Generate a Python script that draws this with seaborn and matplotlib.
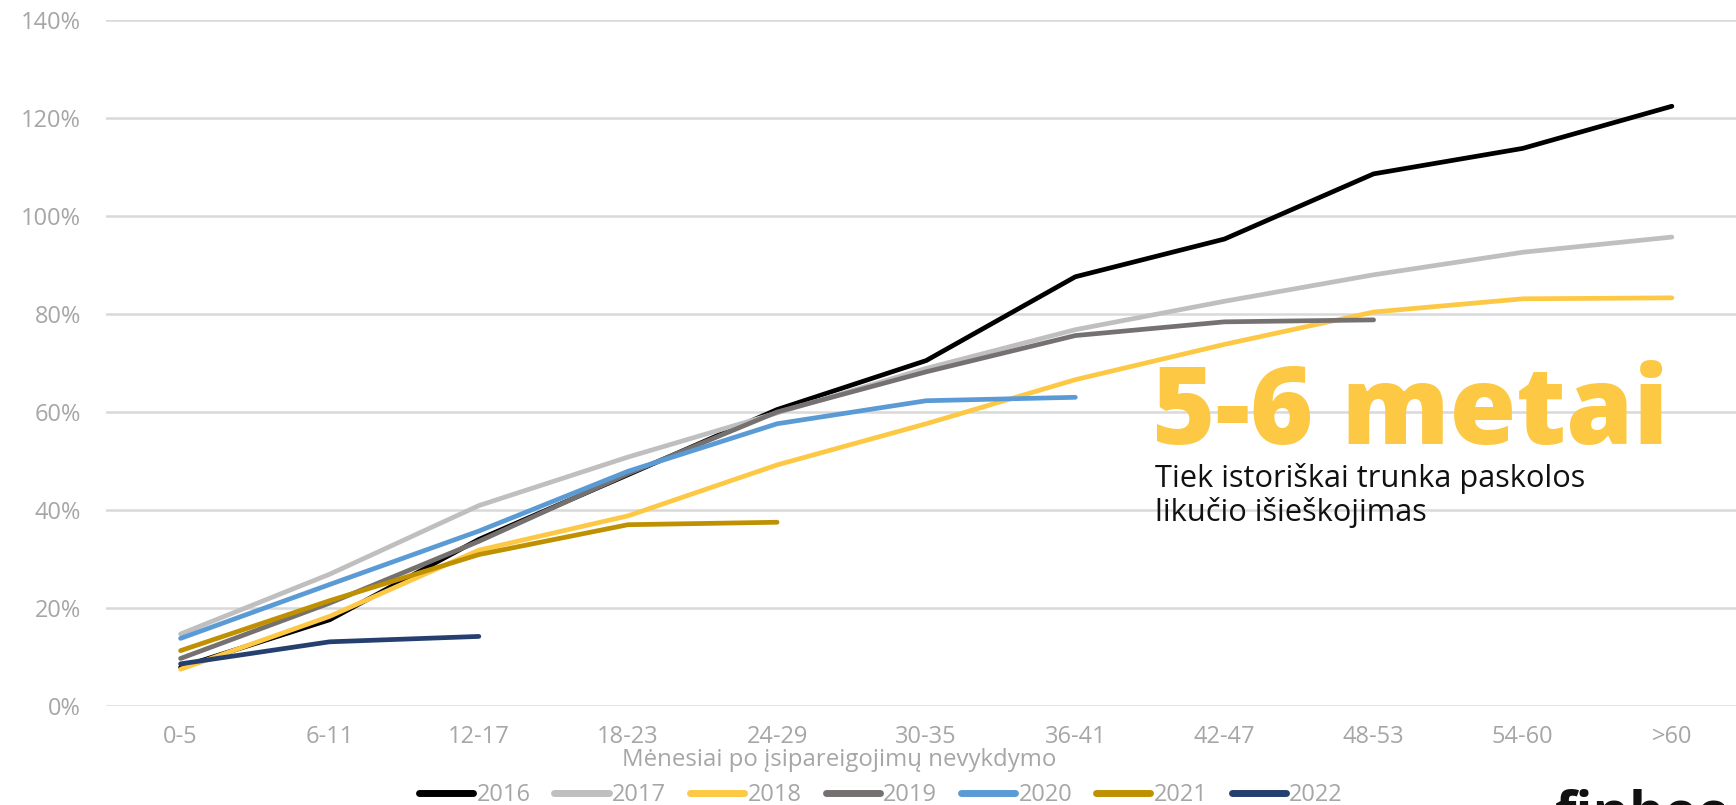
import numpy as np
import pandas as pd
import seaborn as sns
import matplotlib.pyplot as plt
from matplotlib.lines import Line2D

categories = ["0-5", "6-11", "12-17", "18-23", "24-29", "30-35", "36-41",
              "42-47", "48-53", "54-60", ">60"]
years = ["2016", "2017", "2018", "2019", "2020", "2021", "2022"]

v2016 = [7.9, 17.6, 34.0, 47.2, 60.5, 70.5, 87.6, 95.3, 108.6, 113.8, 122.4]
v2017 = [14.7, 26.9, 40.9, 50.8, 59.8, 68.9, 76.8, 82.6, 88.0, 92.6, 95.7]
v2018 = [7.5, 18.3, 31.8, 38.8, 49.2, 57.6, 66.6, 73.8, 80.4, 83.1, 83.3]
v2019 = [9.7, 21.0, 33.6, 47.4, 60.0, 68.2, 75.6, 78.4, 78.8]
v2020 = [13.8, 24.8, 35.7, 47.9, 57.6, 62.3, 63.0]
v2021 = [11.3, 21.5, 30.9, 37.0, 37.5]
v2022 = [8.6, 13.1, 14.2]

colors = ["#000000", "#BFBFBF", "#FDC844", "#757171", "#5B9BD5", "#BF9000", "#253F6E"]

series = [v2016, v2017, v2018, v2019, v2020, v2021, v2022]
rows = []
for y, vals in zip(years, series):
    for i, v in enumerate(vals):
        rows.append({"year": y, "pos": i, "value": v})
df = pd.DataFrame(rows)

sns.set_theme(style="white")
plt.rcParams['font.family'] = ['Open Sans', 'DejaVu Sans']

W, H = 1736, 805
fig = plt.figure(figsize=(W / 100, H / 100), dpi=100)
ax = fig.add_axes([106 / W, 99 / H, 1 - 106 / W, 686 / H])

sns.lineplot(data=df, x="pos", y="value", hue="year", palette=colors,
             linewidth=3.4, ax=ax, legend=False, sort=False)
for l in ax.lines:
    l.set_solid_capstyle("round")
    l.set_solid_joinstyle("round")

ax.set_xlim(-0.5, 10.43)
ax.set_ylim(0, 140)
ax.set_yticks(np.arange(0, 141, 20))
ax.set_yticklabels([f"{int(t)}%" for t in np.arange(0, 141, 20)])
ax.set_xticks(range(len(categories)))
ax.set_xticklabels(categories)
ax.tick_params(axis="y", length=0, pad=18, labelsize=17, labelcolor="#A6A6A6")
ax.tick_params(axis="x", length=0, pad=14, labelsize=17, labelcolor="#A6A6A6")
ax.grid(axis="y", color="#D9D9D9", linewidth=1.8)
ax.grid(axis="x", visible=False)
for s in ax.spines.values():
    s.set_visible(False)
ax.set_xlabel("")
ax.set_ylabel("")
ax.set_axisbelow(True)

renderer = fig.canvas.get_renderer()


def fit_width(txt, target_px):
    ext = txt.get_window_extent(renderer=renderer)
    txt.set_fontsize(txt.get_fontsize() * target_px / ext.width)


xl = fig.text(839 / W, 1 - 760 / H, "Mėnesiai po įsipareigojimų nevykdymo",
              ha="center", va="center", fontsize=15, color="#A6A6A6")
fit_width(xl, 432)

handles = [Line2D([0], [0], color=c, linewidth=5, solid_capstyle="round") for c in colors]
fig.legend(handles, years, loc="center", bbox_to_anchor=(881 / W, 1 - 795 / H),
           ncol=7, frameon=False, fontsize=17, labelcolor="#A6A6A6",
           handlelength=2.3, handletextpad=0.15, columnspacing=1.0)

head = fig.text(1152 / W, 1 - 444 / H, "5-6 metai", ha="left", va="baseline",
                fontsize=75, fontweight="heavy", color="#FDC844")
fit_width(head, 516)

sub1 = fig.text(1155 / W, 1 - 487 / H, "Tiek istoriškai trunka paskolos",
                ha="left", va="baseline", fontsize=20, color="#111111")
fit_width(sub1, 430)
sub2 = fig.text(1155 / W, 1 - 521 / H, "likučio išieškojimas",
                ha="left", va="baseline", fontsize=sub1.get_fontsize(), color="#111111")

fig.text(1555 / W, 1 - 830 / H, "finbee", ha="left", va="baseline",
         fontsize=40, fontweight="bold", color="#111111")

fig.savefig("out.png", dpi=100)
